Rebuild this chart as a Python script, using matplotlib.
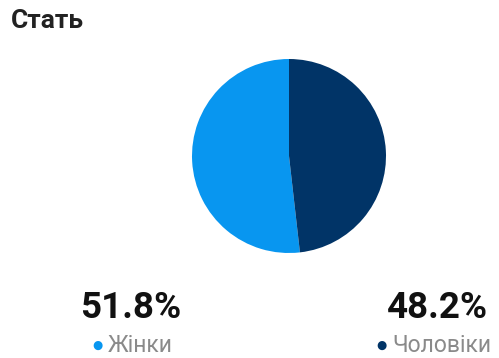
import matplotlib.pyplot as plt

labels = ['Жінки', 'Чоловіки']
values = [51.8, 48.2]
colors = ['#0896f0', '#013467']
title = 'Стать'

W, H = 499, 358
fig = plt.figure(figsize=(W / 100, H / 100), dpi=100)
plt.rcParams['font.family'] = ['Roboto', 'DejaVu Sans']


def px(x, y):
    return x / W, 1 - y / H


# pie: centre about (289, 156), radius 97 px
ax = fig.add_axes([192 / W, 1 - 253 / H, 194 / W, 194 / H])
ax.pie(values, colors=colors, startangle=90, counterclock=True,
       wedgeprops={'linewidth': 0})
ax.set_xlim(-1, 1)
ax.set_ylim(-1, 1)
ax.set_aspect('equal')
ax.axis('off')

fig.text(*px(11, 21), title, fontsize=19, fontweight='bold', color='#222222',
         ha='left', va='center')

# value + legend blocks
pct_x = [131, 437]
dot_x = [97, 381]
for i, (lab, val, col) in enumerate(zip(labels, values, colors)):
    fig.text(*px(pct_x[i], 318), f'{val}%', fontsize=26.5, fontweight='bold',
             color='#111111', ha='center', va='baseline')
    fig.text(*px(dot_x[i], 345), '●', fontsize=8.5, color=col,
             ha='center', va='center')
    fig.text(*px(dot_x[i] + 11, 357.5), lab, fontsize=16.5, color='#8a8a8a',
             ha='left', va='bottom')

fig.savefig('out.png', dpi=100)
